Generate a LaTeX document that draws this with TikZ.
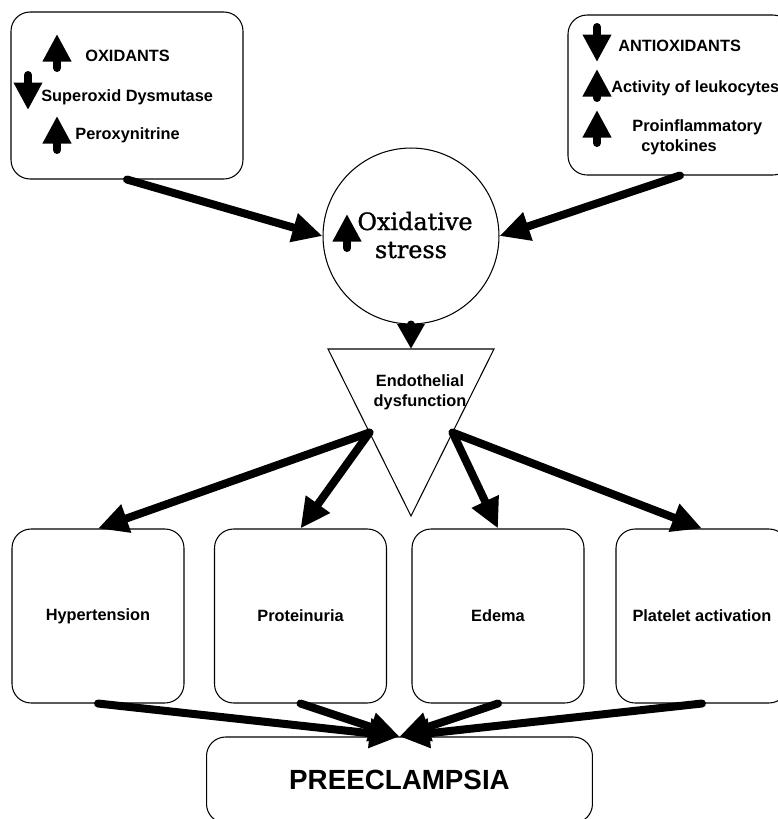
\documentclass[tikz,border=0pt]{standalone}
\usepackage{fontspec}
\setmainfont{Liberation Sans}
\newfontfamily\stressfont[FakeBold=1.2]{DejaVu Serif}
\usetikzlibrary{arrows.meta, calc, positioning}
\newcommand{\link}[2]
{
	\draw[conn] (#1) -- (#2)
}
\newcommand{\updown}[3]
{
	\draw[icon] (#1, #2) -- (#1, #3)
}

\begin{document}
\begin{tikzpicture}[x=0.02cm, y=-0.02cm,
	every node/.append style={inner sep=0pt},
	box/.style={draw, rounded corners=0.38cm, line width=0.6pt},
	lbl/.style={font=\bfseries\fontsize{9.3}{11}\selectfont},
	conn/.style={line width=0.16cm, line cap=round,
		-{Triangle[length=0.6cm, width=0.56cm]}},
	icon/.style={line width=0.16cm, line cap=round,
		-{Triangle[length=0.55cm, width=0.54cm]}}]

	\useasboundingbox (0,0) rectangle (778,819);
	\clip (0,0) rectangle (778,819);

	\node[box, minimum width=4.64cm, minimum height=3.34cm] at (127, 95.5) (OX){};
	\node[lbl, anchor=base west] at (85, 61.5) (OX1){OXIDANTS};
	\node[lbl, anchor=base west] at (41, 101.5) (OX2){Superoxid Dysmutase};
	\node[lbl, anchor=base west] at (75, 139) (OX3){Peroxynitrine};
	\updown{57}{68}{34};
	\updown{28}{75}{110};
	\updown{57}{150}{116};

	\node[box, minimum width=4.48cm, minimum height=3.2cm] at (680, 95) (AOX){};
	\node[lbl, anchor=base west] at (618, 51) (AOX1){ANTIOXIDANTS};
	\node[lbl, anchor=base west] at (611, 92) (AOX2){Activity of leukocytes};
	\node[lbl, anchor=base west] at (632, 131) (AOX3){Proinflammatory};
	\node[lbl, anchor=base west] at (641, 151) (AOX4){cytokines};
	\updown{597}{27}{62};
	\updown{597}{98}{69};
	\updown{597}{143}{110};

	\node[draw, circle, line width=0.6pt, minimum size=3.52cm] at (411, 236) (OS){};
	\node[font=\stressfont\fontsize{13.6}{16}\selectfont, anchor=base] at (415, 230) (OS1){Oxidative};
	\node[font=\stressfont\fontsize{13.6}{16}\selectfont, anchor=base] at (411, 258) (OS2){stress};
	\updown{347}{248}{214};

	\coordinate (T1) at (328, 349);
	\coordinate (T2) at (494, 349);
	\coordinate (T3) at (411, 516);
	\coordinate (TT) at ($(T1)!0.5!(T2)$);
	\coordinate (TL) at ($(T1)!0.5!(T3)$);
	\coordinate (TR) at ($(T2)!0.5!(T3)$);
	\draw[line width=0.6pt] (T1) -- (T2) -- (T3) -- cycle;
	\node[lbl, anchor=base] at (420, 386) (ED1){Endothelial};
	\node[lbl, anchor=base] at (420, 406) (ED2){dysfunction};

	\node[box, lbl, minimum width=3.44cm, minimum height=3.48cm] at (98, 616) (S1){Hypertension};
	\node[box, lbl, minimum width=3.44cm, minimum height=3.48cm] at (300.5, 616) (S2){Proteinuria};
	\node[box, lbl, minimum width=3.44cm, minimum height=3.48cm] at (498, 616) (S3){Edema};
	\node[box, lbl, minimum width=3.44cm, minimum height=3.48cm] at (702, 616) (S4){Platelet activation};

	\node[box, font=\bfseries\fontsize{15.8}{18}\selectfont,
	minimum width=7.72cm, minimum height=1.72cm] at (399.5, 780) (PE){PREECLAMPSIA};

	\link{OX.south}{OS.west};
	\link{AOX.south}{OS.east};
	\draw[line width=0.16cm, line cap=round,
	-{Triangle[length=0.5cm, width=0.52cm]}] (OS.south) -- (TT);
	\link{TL}{S1.north};
	\link{TL}{S2.north};
	\link{TR}{S3.north};
	\link{TR}{S4.north};
	\link{S1.south}{PE.north};
	\link{S2.south}{PE.north};
	\link{S3.south}{PE.north};
	\link{S4.south}{PE.north};
\end{tikzpicture}
\end{document}
